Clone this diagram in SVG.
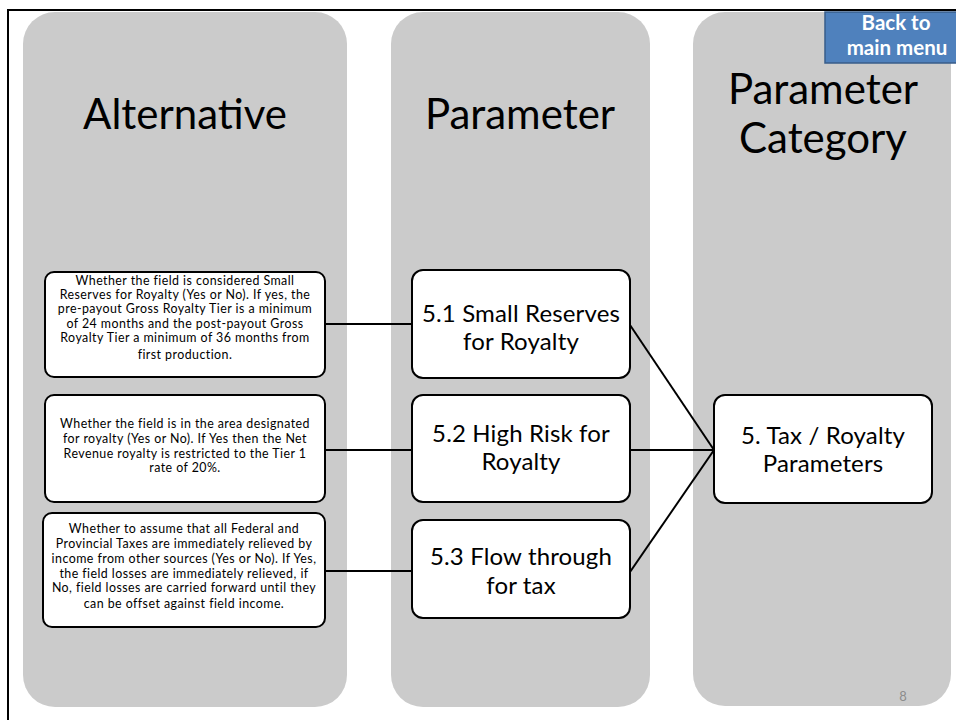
<svg xmlns="http://www.w3.org/2000/svg" width="956" height="720" viewBox="0 0 956 720">
  <style>
    .panel { fill: #cbcbcb; }
    .head { font-family: Lato, "Liberation Sans", sans-serif; font-size: 42px; fill: #000; text-anchor: middle; }
    .box { fill: #fff; stroke: #000; stroke-width: 2; }
    .small { font-family: Lato, "Liberation Sans", sans-serif; font-size: 12.4px; letter-spacing: 0.45px; fill: #000; text-anchor: middle; }
    .big { font-family: Lato, "Liberation Sans", sans-serif; font-size: 24px; letter-spacing: 0.15px; fill: #000; text-anchor: middle; }
    .link { stroke: #000; stroke-width: 2; fill: none; }
    .btn { font-family: Lato, "Liberation Sans", sans-serif; font-size: 20.5px; font-weight: bold; fill: #fff; text-anchor: middle; }
  </style>

  <rect x="0" y="0" width="956" height="720" fill="#fff"/>
  <!-- slide frame -->
  <rect x="8" y="10" width="970" height="730" fill="none" stroke="#000" stroke-width="2"/>

  <!-- column panels -->
  <g id="col-alternative">
    <rect class="panel" x="23" y="12" width="324" height="695" rx="32"/>
    <text class="head" x="185" y="129">Alternative</text>
  </g>
  <g id="col-parameter">
    <rect class="panel" x="391" y="12" width="259" height="695" rx="32"/>
    <text class="head" x="520" y="129">Parameter</text>
  </g>
  <g id="col-category">
    <rect class="panel" x="693" y="12" width="258" height="694" rx="32"/>
    <text class="head" x="823" y="104">Parameter</text>
    <text class="head" x="823" y="153">Category</text>
  </g>

  <!-- connectors -->
  <g id="connectors">
    <line class="link" x1="325" y1="324" x2="412" y2="324"/>
    <line class="link" x1="325" y1="450" x2="412" y2="450"/>
    <line class="link" x1="325" y1="571" x2="412" y2="571"/>
    <line class="link" x1="630" y1="325" x2="714" y2="450"/>
    <line class="link" x1="630" y1="450" x2="714" y2="450"/>
    <line class="link" x1="630" y1="572" x2="714" y2="450"/>
  </g>

  <!-- alternatives -->
  <g id="alt-1">
    <rect class="box" x="45" y="272" width="280" height="105" rx="9"/>
    <text class="small" x="185" y="285">Whether the field is considered Small</text>
    <text class="small" x="185" y="299">Reserves for Royalty (Yes or No). If yes, the</text>
    <text class="small" x="185" y="313">pre-payout Gross Royalty Tier is a minimum</text>
    <text class="small" x="185" y="327.5">of 24 months and the post-payout Gross</text>
    <text class="small" x="185" y="341.5">Royalty Tier a minimum of 36 months from</text>
    <text class="small" x="185" y="359" font-size="13.2">first production.</text>
  </g>
  <g id="alt-2">
    <rect class="box" x="45" y="395" width="280" height="107" rx="9"/>
    <text class="small" x="185" y="428">Whether the field is in the area designated</text>
    <text class="small" x="185" y="443">for royalty (Yes or No). If Yes then the Net</text>
    <text class="small" x="185" y="458">Revenue royalty is restricted to the Tier 1</text>
    <text class="small" x="185" y="472">rate of 20%.</text>
  </g>
  <g id="alt-3">
    <rect class="box" x="43" y="513" width="282" height="114" rx="9"/>
    <text class="small" x="184" y="533">Whether to assume that all Federal and</text>
    <text class="small" x="184" y="548">Provincial Taxes are immediately relieved by</text>
    <text class="small" x="184" y="563">income from other sources (Yes or No). If Yes,</text>
    <text class="small" x="184" y="578">the field losses are immediately relieved, if</text>
    <text class="small" x="184" y="592">No, field losses are carried forward until they</text>
    <text class="small" x="184" y="608" font-size="13.2">can be offset against field income.</text>
  </g>

  <!-- parameters -->
  <g id="param-5-1">
    <rect class="box" x="412" y="270" width="218" height="108" rx="11"/>
    <text class="big" x="521" y="322">5.1 Small Reserves</text>
    <text class="big" x="521" y="350">for Royalty</text>
  </g>
  <g id="param-5-2">
    <rect class="box" x="412" y="395" width="218" height="107" rx="11"/>
    <text class="big" x="521" y="442">5.2 High Risk for</text>
    <text class="big" x="521" y="470">Royalty</text>
  </g>
  <g id="param-5-3">
    <rect class="box" x="412" y="520" width="218" height="98" rx="11"/>
    <text class="big" x="521" y="565">5.3 Flow through</text>
    <text class="big" x="521" y="594">for tax</text>
  </g>

  <!-- category -->
  <g id="category-5">
    <rect class="box" x="714" y="395" width="218" height="108" rx="11"/>
    <text class="big" x="823" y="444">5. Tax / Royalty</text>
    <text class="big" x="823" y="472">Parameters</text>
  </g>

  <!-- navigation button -->
  <g id="back-button">
    <rect x="825" y="12" width="140" height="51" fill="#4f81bd" stroke="#385d8a" stroke-width="1.5"/>
    <text class="btn" x="896" y="30">Back to</text>
    <text class="btn" x="897" y="55">main menu</text>
  </g>

  <!-- page number -->
  <text x="903" y="701" font-family="Lato, 'Liberation Sans', sans-serif" font-size="13" fill="#8c8c8c" text-anchor="middle">8</text>
</svg>
